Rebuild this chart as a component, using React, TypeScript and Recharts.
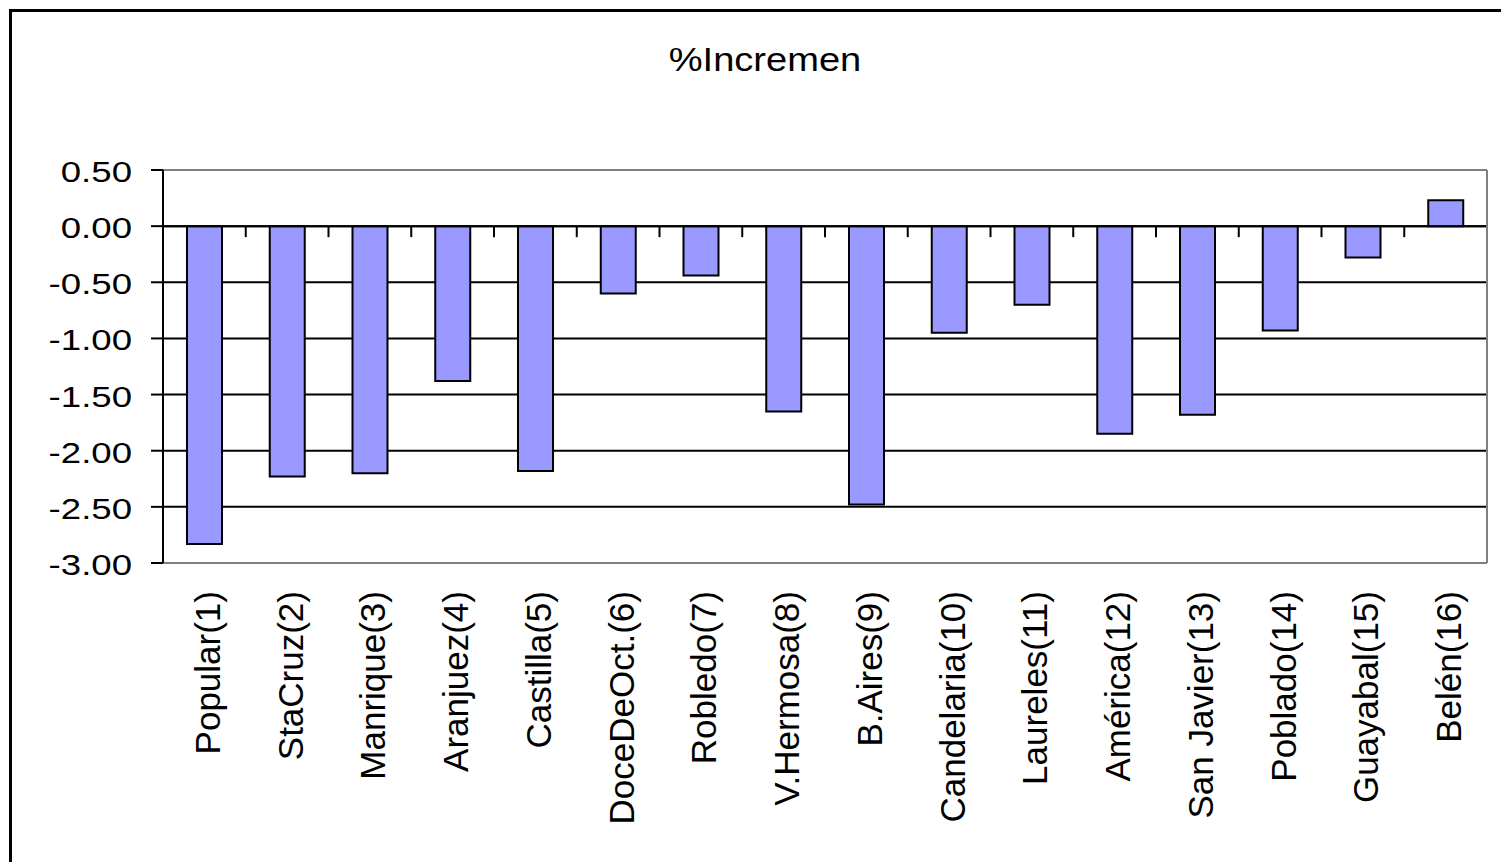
import React from 'react';
import { BarChart, Bar, XAxis, YAxis, CartesianGrid, ReferenceLine } from 'recharts';

const categories = [
  'Popular(1)', 'StaCruz(2)', 'Manrique(3)', 'Aranjuez(4)', 'Castilla(5)', 'DoceDeOct.(6)',
  'Robledo(7)', 'V.Hermosa(8)', 'B.Aires(9)', 'Candelaria(10)', 'Laureles(11)', 'América(12)',
  'San Javier(13)', 'Poblado(14)', 'Guayabal(15)', 'Belén(16)',
];
const increments = [
  -2.83, -2.23, -2.2, -1.38, -2.18, -0.6, -0.44, -1.65, -2.48, -0.95, -0.7, -1.85, -1.68, -0.93, -0.28, 0.23,
];
const yTicks = [-3, -2.5, -2, -1.5, -1, -0.5, 0, 0.5];

const data = categories.map((name, i) => ({ name, value: increments[i] }));

const FONT = '"Liberation Sans", Arial, sans-serif';

// category label, rotated to read bottom-up
function RotatedTick({ x, y, payload }: any) {
  return (
    <text
      x={x}
      y={y}
      dy={3}
      transform={`rotate(-90, ${x}, ${y})`}
      textAnchor="end"
      dominantBaseline="central"
      fontSize={35}
      fontFamily={FONT}
      fill="#000"
    >
      {payload.value}
    </text>
  );
}

// value label; the original is a little stretched sideways
function ValueTick({ x, y, payload }: any) {
  return (
    <g transform={`translate(${x},${y})`}>
      <text transform="scale(1.22,1)" dy={12} textAnchor="end" fontSize={30} fontFamily={FONT} fill="#000">
        {Number(payload.value).toFixed(2)}
      </text>
    </g>
  );
}

// zero axis with tick marks between categories
function ZeroAxis({ x1, y1, x2 }: any) {
  const n = categories.length;
  const step = (x2 - x1) / n;
  const marks = [];
  for (let i = 0; i <= n; i++) {
    const x = x1 + step * i;
    marks.push(<line key={i} x1={x} x2={x} y1={y1} y2={y1 + 11} stroke="#000" strokeWidth={2} />);
  }
  return (
    <g>
      <line x1={x1} x2={x2} y1={y1} y2={y1} stroke="#000" strokeWidth={2} />
      {marks}
    </g>
  );
}

export default function App() {
  return (
    <div style={{ position: 'fixed', left: 0, top: 0, width: 1501, height: 862, overflow: 'hidden', background: '#fff' }}>
      <div
        style={{
          position: 'absolute', left: 9, top: 9, width: 1700, height: 1100,
          border: '3px solid #000', boxSizing: 'border-box',
        }}
      />
      <div
        style={{
          position: 'absolute', left: 565, top: 42, width: 400, textAlign: 'center',
          fontFamily: FONT, fontSize: 34, lineHeight: '35px', color: '#000',
          transform: 'scaleX(1.12)',
        }}
      >
        %Incremen
      </div>
      <div style={{ position: 'absolute', left: 0, top: 0 }}>
        <BarChart
          width={1501}
          height={862}
          data={data}
          margin={{ top: 170, right: 0, bottom: 0, left: 0 }}
          barCategoryGap="29%"
        >
          <CartesianGrid yAxisId="v" vertical={false} stroke="#000" strokeWidth={2} fill="#fff" />
          <XAxis
            dataKey="name"
            height={299}
            axisLine={{ stroke: '#808080', strokeWidth: 2 }}
            tickLine={false}
            tickSize={0}
            tickMargin={28}
            interval={0}
            tick={<RotatedTick />}
          />
          <YAxis
            yAxisId="v"
            width={163}
            domain={[-3, 0.5]}
            ticks={yTicks}
            allowDataOverflow
            axisLine={{ stroke: '#000', strokeWidth: 2 }}
            tickLine={{ stroke: '#000', strokeWidth: 2 }}
            tickSize={12}
            tickMargin={19}
            tick={<ValueTick />}
          />
          <YAxis
            yAxisId="r"
            orientation="right"
            width={14}
            domain={[-3, 0.5]}
            tick={false}
            tickLine={false}
            axisLine={{ stroke: '#808080', strokeWidth: 2 }}
          />
          <ReferenceLine yAxisId="v" y={0.5} stroke="#808080" strokeWidth={2} />
          <ReferenceLine yAxisId="v" y={0} shape={<ZeroAxis />} />
          <Bar
            yAxisId="v"
            dataKey="value"
            fill="#9999FF"
            stroke="#000"
            strokeWidth={2}
            isAnimationActive={false}
          />
        </BarChart>
      </div>
    </div>
  );
}
